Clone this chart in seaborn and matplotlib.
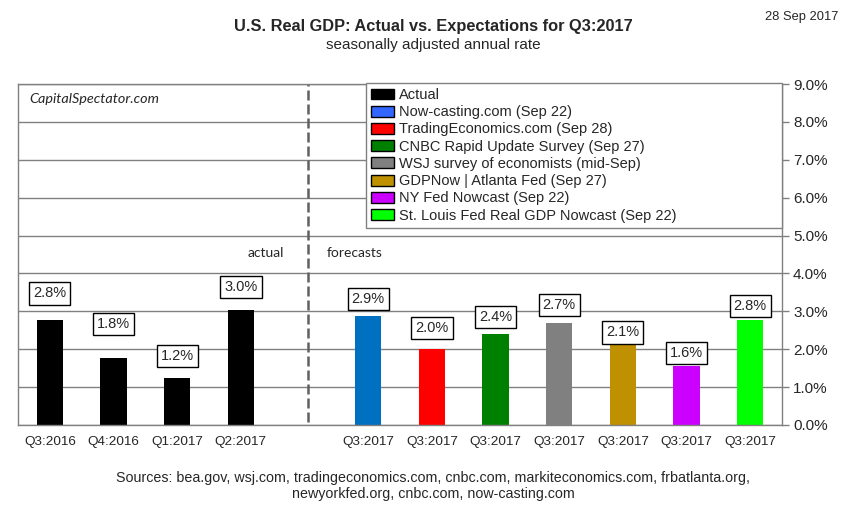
import numpy as np
import pandas as pd
import seaborn as sns
import matplotlib.pyplot as plt
from matplotlib.patches import Patch
from matplotlib.ticker import FuncFormatter

# data
categories = ['Q3:2016', 'Q4:2016', 'Q1:2017', 'Q2:2017', '',
              'Q3:2017', 'Q3:2017', 'Q3:2017', 'Q3:2017', 'Q3:2017', 'Q3:2017', 'Q3:2017']
values = [2.76, 1.77, 1.24, 3.03, np.nan, 2.87, 2.0, 2.4, 2.7, 2.1, 1.56, 2.77]
bar_colors = ['#000000', '#000000', '#000000', '#000000', '#ffffff',
              '#0070c0', '#ff0000', '#008000', '#808080', '#bf9000', '#cc00ff', '#00ff00']
legend_names = ['Actual', 'Now-casting.com (Sep 22)', 'TradingEconomics.com (Sep 28)',
                'CNBC Rapid Update Survey (Sep 27)', 'WSJ survey of economists (mid-Sep)',
                'GDPNow | Atlanta Fed (Sep 27)', 'NY Fed Nowcast (Sep 22)',
                'St. Louis Fed Real GDP Nowcast (Sep 22)']
legend_colors = ['#000000', '#3366ff', '#ff0000', '#008000', '#808080',
                 '#bf9000', '#cc00ff', '#00ff00']
yticks = np.arange(0, 10, 1)

# how far (px) each value box sits above its bar, as in the original
label_lift_px = [27, 34, 22, 23, 0, 17, 21, 17, 18, 13, 13, 14]

sns.set_style('white')
plt.rcParams['font.family'] = ['Liberation Sans', 'DejaVu Sans']
narrow = ['Liberation Sans Narrow', 'Liberation Sans']

keys = [str(i) for i in range(len(categories))]
df = pd.DataFrame({'slot': keys, 'value': values}).dropna()

fig = plt.figure(figsize=(8.55, 5.16), dpi=100)
ax = fig.add_axes([18 / 855, 1 - 425 / 516, 764 / 855, 341 / 516])

sns.barplot(data=df, x='slot', y='value', hue='slot', order=keys, hue_order=keys,
            palette=dict(zip(keys, bar_colors)), dodge=False, width=0.41,
            legend=False, ax=ax, saturation=1, linewidth=0)

ax.set_xlim(-0.5, len(categories) - 0.5)
ax.set_ylim(0, 9)
ax.yaxis.tick_right()
ax.set_yticks(yticks)
ax.yaxis.set_major_formatter(FuncFormatter(lambda v, p: f'{v:.1f}%'))
ax.set_xticks(range(len(categories)))
ax.set_xticklabels(categories)
ax.set_xticks(np.arange(-0.5, len(categories)), minor=True)
ax.tick_params(axis='x', which='major', length=0, labelsize=9.7, pad=8)
ax.tick_params(axis='x', which='minor', length=4, color='#808080', width=1, direction='out')
ax.tick_params(axis='y', length=5, color='#808080', width=1, labelsize=11, pad=3,
               direction='out', right=True, left=False)
ax.set_xlabel('')
ax.set_ylabel('')
ax.yaxis.grid(True, color='#808080', lw=1)
ax.set_axisbelow(True)
for s in ax.spines.values():
    s.set_color('#808080')
    s.set_linewidth(1)
    s.set_visible(True)

# value labels
for i, v in enumerate(values):
    if np.isnan(v):
        continue
    ax.annotate(f'{v:.1f}%', (i, v), xytext=(0, label_lift_px[i] * 0.72),
                textcoords='offset points', ha='center', va='center', fontsize=10.5,
                bbox=dict(boxstyle='square,pad=0.28', fc='white', ec='black', lw=1))

# divider between actual and forecasts
ax.axvline(4.05, ymin=0.01, ymax=1, color='#606060', lw=1.8, ls=(0, (4, 1.6)))
ax.text(3.68, 4.55, 'actual', ha='right', va='center', fontsize=10, family='Lato')
ax.text(4.35, 4.55, 'forecasts', ha='left', va='center', fontsize=10, family='Lato')
ax.text(0.015, 0.955, 'CapitalSpectator.com', transform=ax.transAxes, ha='left', va='center',
        fontsize=10.4, style='italic', family='Lato')

handles = [Patch(facecolor=c, edgecolor='black', lw=1) for c in legend_colors]
leg = ax.legend(handles, legend_names, loc='upper left', mode='expand',
                bbox_to_anchor=(348 / 764, 0.0, 1 - 348 / 764, 1.003), borderaxespad=0,
                fontsize=10.5, frameon=True, fancybox=False, handlelength=1.55, handleheight=0.78,
                handletextpad=0.35, labelspacing=0.22, borderpad=0.35)
leg.get_frame().set_edgecolor('#808080')
leg.get_frame().set_linewidth(1)
leg.get_frame().set_alpha(1)

fig.text(433 / 855, 1 - 26 / 516, 'U.S. Real GDP: Actual vs. Expectations for Q3:2017',
         ha='center', va='center', fontsize=11.8, fontweight='bold', family=narrow)
fig.text(433 / 855, 1 - 45 / 516, 'seasonally adjusted annual rate',
         ha='center', va='center', fontsize=11, family=narrow)
fig.text(838 / 855, 1 - 17 / 516, '28 Sep 2017', ha='right', va='center', fontsize=9.3,
         family=narrow)
fig.text(433 / 855, 1 - 478 / 516,
         'Sources: bea.gov, wsj.com, tradingeconomics.com, cnbc.com, markiteconomics.com, frbatlanta.org,',
         ha='center', va='center', fontsize=10.3, family=narrow)
fig.text(433 / 855, 1 - 494 / 516, 'newyorkfed.org, cnbc.com, now-casting.com',
         ha='center', va='center', fontsize=10.3, family=narrow)

fig.savefig('out.png', dpi=100)
